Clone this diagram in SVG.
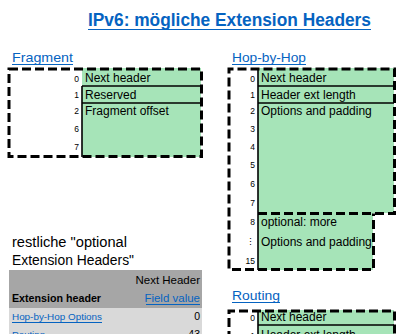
<svg xmlns="http://www.w3.org/2000/svg" width="405" height="334" viewBox="0 0 405 334">
  <style>
    .t { font-family: "Liberation Sans", Arial, sans-serif; fill: #000; }
    .cell { font-size: 12px; }
    .num { font-size: 8.5px; text-anchor: end; }
    .link { fill: #0563c1; }
    .sec { font-size: 13px; }
    .green { fill: #a6e4b8; }
    .dash { fill: none; stroke: #000; stroke-width: 3; stroke-dasharray: 9 4; }
    .rule { stroke: #000; stroke-width: 1.6; fill: none; }
    .ul { stroke: #0563c1; stroke-width: 1.2; }
  </style>
  <rect width="405" height="334" fill="#fff"/>

  <!-- title -->
  <g id="title">
    <text class="t link" x="88" y="26" font-size="17.5" font-weight="bold" textLength="283" lengthAdjust="spacingAndGlyphs">IPv6: mögliche Extension Headers</text>
    <line class="ul" x1="88" y1="29.5" x2="371" y2="29.5" stroke-width="1.6"/>
  </g>

  <!-- Fragment header -->
  <g id="fragment">
    <text class="t link sec" x="12" y="62" textLength="61" lengthAdjust="spacingAndGlyphs">Fragment</text>
    <line class="ul" x1="12" y1="64.5" x2="73" y2="64.5"/>
    <rect class="green" x="82" y="68" width="119" height="89"/>
    <line class="rule" x1="82" y1="86" x2="201" y2="86"/>
    <line class="rule" x1="82" y1="103" x2="201" y2="103"/>
    <line class="rule" x1="82" y1="86" x2="82" y2="157"/>
    <text class="t cell" x="85" y="82">Next header</text>
    <text class="t cell" x="85" y="99">Reserved</text>
    <text class="t cell" x="85" y="115">Fragment offset</text>
    <text class="t num" x="79" y="82">0</text>
    <text class="t num" x="79" y="98">1</text>
    <text class="t num" x="79" y="114">2</text>
    <text class="t num" x="79" y="132">6</text>
    <text class="t num" x="79" y="150">7</text>
    <rect class="dash" x="9" y="69" width="192.5" height="87.5"/>
  </g>

  <!-- Hop-by-Hop header -->
  <g id="hop-by-hop">
    <text class="t link sec" x="232" y="62" textLength="74" lengthAdjust="spacingAndGlyphs">Hop-by-Hop</text>
    <line class="ul" x1="232" y1="64.5" x2="306" y2="64.5"/>
    <rect class="green" x="258" y="68" width="136" height="145"/>
    <rect class="green" x="258" y="213" width="115" height="57"/>
    <line class="rule" x1="258" y1="86" x2="394" y2="86"/>
    <line class="rule" x1="258" y1="103" x2="394" y2="103"/>
    <line class="rule" x1="258" y1="68" x2="258" y2="270"/>
    <text class="t cell" x="261" y="82">Next header</text>
    <text class="t cell" x="261" y="99">Header ext length</text>
    <text class="t cell" x="261" y="115">Options and padding</text>
    <text class="t cell" x="261" y="226">optional: more</text>
    <text class="t cell" x="261" y="246">Options and padding</text>
    <text class="t num" x="255" y="82">0</text>
    <text class="t num" x="255" y="98">1</text>
    <text class="t num" x="255" y="114">2</text>
    <text class="t num" x="255" y="132">3</text>
    <text class="t num" x="255" y="150">4</text>
    <text class="t num" x="255" y="168">5</text>
    <text class="t num" x="255" y="187">6</text>
    <text class="t num" x="255" y="206">7</text>
    <text class="t num" x="255" y="225">8</text>
    <text class="t num" x="255" y="245">⋮</text>
    <text class="t num" x="255" y="264">15</text>
    <path class="dash" d="M258,213.5 H394.5 V69 H229 V269.5 H373.5 V213.5"/>
  </g>

  <!-- Routing header -->
  <g id="routing">
    <text class="t link sec" x="232" y="300" textLength="48" lengthAdjust="spacingAndGlyphs">Routing</text>
    <line class="ul" x1="232" y1="302.5" x2="280" y2="302.5"/>
    <rect class="green" x="258" y="310" width="136" height="24"/>
    <line class="rule" x1="258" y1="325" x2="394" y2="325"/>
    <line class="rule" x1="258" y1="310" x2="258" y2="334"/>
    <text class="t cell" x="261" y="321">Next header</text>
    <text class="t cell" x="261" y="339">Header ext length</text>
    <text class="t num" x="255" y="321">0</text>
    <text class="t num" x="255" y="339">1</text>
    <path class="dash" d="M229,340 V311 H394.5 V340"/>
  </g>

  <!-- list of remaining extension headers -->
  <g id="extension-table">
    <text class="t" x="12" y="247" font-size="14" textLength="115" lengthAdjust="spacingAndGlyphs">restliche "optional</text>
    <text class="t" x="12" y="265" font-size="14" textLength="122" lengthAdjust="spacingAndGlyphs">Extension Headers"</text>
    <rect x="9" y="270" width="193" height="38" fill="#a6a6a6"/>
    <rect x="9" y="308" width="193" height="26" fill="#d9d9d9"/>
    <text class="t" x="200" y="284" font-size="11.5" text-anchor="end">Next Header</text>
    <text class="t" x="12" y="302" font-size="11" font-weight="bold" textLength="89" lengthAdjust="spacingAndGlyphs">Extension header</text>
    <text class="t link" x="200" y="302" font-size="11.5" text-anchor="end">Field value</text>
    <line class="ul" x1="146" y1="304.5" x2="200" y2="304.5"/>
    <text class="t link" x="12" y="320" font-size="9.5" textLength="90" lengthAdjust="spacingAndGlyphs">Hop-by-Hop Options</text>
    <line class="ul" x1="12" y1="322.5" x2="102" y2="322.5"/>
    <text class="t" x="200" y="320" font-size="10.5" text-anchor="end">0</text>
    <text class="t link" x="12" y="338" font-size="9.5">Routing</text>
    <text class="t" x="200" y="338" font-size="10.5" text-anchor="end">43</text>
  </g>
</svg>
